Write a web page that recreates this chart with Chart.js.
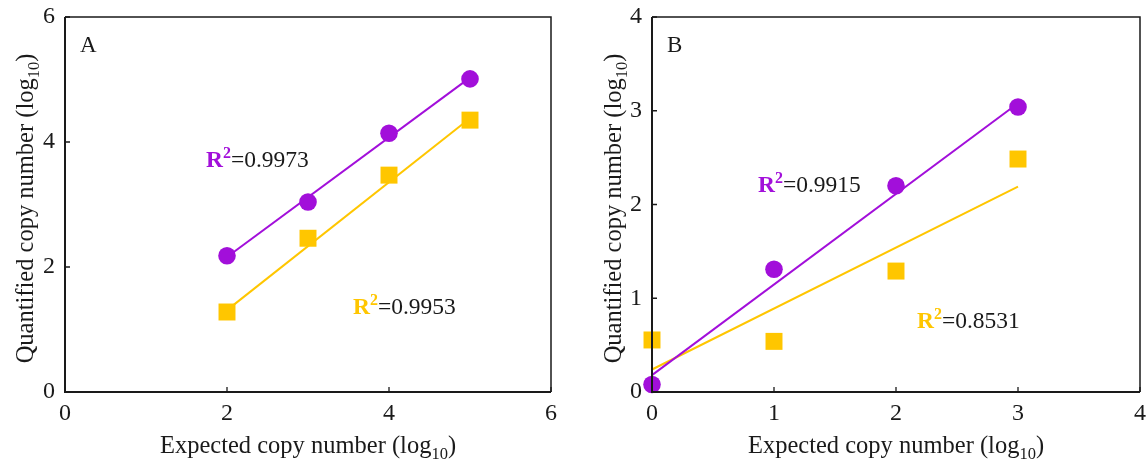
<!DOCTYPE html>
<html>
<head>
<meta charset="utf-8">
<script src="https://cdn.jsdelivr.net/npm/chart.js@4.4.1/dist/chart.umd.min.js"></script>
<style>
  body { margin: 0; background: #fff; overflow: hidden; }
  .wrap { position: absolute; top: 0; }
</style>
</head>
<body>
<div class="wrap" style="left:0"><canvas id="chartA" width="580" height="466"></canvas></div>
<div class="wrap" style="left:580px"><canvas id="chartB" width="580" height="466"></canvas></div>
<script>
// data (log10 values)
const expectedA = [2, 3, 4, 5];
const purpleA = [2.18, 3.04, 4.14, 5.01];
const yellowA = [1.28, 2.46, 3.47, 4.35];
const fitXA = [2, 5];
const fitPurpleA = [2.16, 5.03];
const fitYellowA = [1.31, 4.38];

const expectedB = [0, 1, 2, 3];
const purpleB = [0.08, 1.31, 2.2, 3.04];
const yellowB = [0.555, 0.54, 1.29, 2.485];
const fitXB = [0, 3];
const fitPurpleB = [0.18, 3.08];
const fitYellowB = [0.24, 2.19];

const r2A = ['0.9973', '0.9953'];
const r2B = ['0.9915', '0.8531'];
const ticksA = [0, 2, 4, 6];
const ticksB = [0, 1, 2, 3, 4];

const PURPLE = '#a20fda';
const YELLOW = '#ffc600';
const INK = '#1a1a1a';
const SERIF = '"Liberation Serif", "Times New Roman", serif';

function pts(xs, ys) {
    return xs.map((x, i) => ({ x: x, y: ys[i] }));
}

// text with a smaller raised/lowered part, e.g. log10 or R2
function drawParts(ctx, parts, x, y) {
    let cx = x;
    parts.forEach(p => {
        ctx.font = p.font;
        ctx.fillStyle = p.color || INK;
        ctx.fillText(p.t, cx, y + (p.dy || 0));
        cx += ctx.measureText(p.t).width;
    });
    return cx - x;
}
function partsWidth(ctx, parts) {
    let w = 0;
    parts.forEach(p => { ctx.font = p.font; w += ctx.measureText(p.t).width; });
    return w;
}

// box, inside ticks, titles and labels
const panelPlugin = {
    id: 'panel',
    afterDraw(chart, args, opts) {
        const ctx = chart.ctx;
        const a = chart.chartArea;
        const xs = chart.scales.x, ys = chart.scales.y;
        ctx.save();
        ctx.strokeStyle = INK;
        ctx.lineWidth = 1.5;
        ctx.beginPath();
        ctx.moveTo(a.left, a.top); ctx.lineTo(a.right, a.top); ctx.lineTo(a.right, a.bottom);
        ctx.stroke();
        ctx.lineWidth = 2;
        ctx.beginPath();
        ctx.moveTo(a.left, a.top); ctx.lineTo(a.left, a.bottom); ctx.lineTo(a.right, a.bottom);
        ctx.stroke();
        ctx.lineWidth = 1.3;
        ctx.beginPath();
        opts.xticks.forEach(v => {
            const px = xs.getPixelForValue(v);
            ctx.moveTo(px, a.bottom); ctx.lineTo(px, a.bottom - 5);
        });
        opts.yticks.forEach(v => {
            const py = ys.getPixelForValue(v);
            ctx.moveTo(a.left, py); ctx.lineTo(a.left + 5, py);
        });
        ctx.stroke();

        ctx.textBaseline = 'alphabetic';
        ctx.textAlign = 'left';
        const big = '24.5px ' + SERIF, small = '16.5px ' + SERIF;

        // x title
        const xt = [{ t: 'Expected copy number (log', font: big }, { t: '10', font: small, dy: 6 }, { t: ')', font: big }];
        const cx = (a.left + a.right) / 2;
        drawParts(ctx, xt, cx - partsWidth(ctx, xt) / 2, 453);

        // y title, rotated
        const yt = [{ t: 'Quantified copy number (log', font: big }, { t: '10', font: small, dy: 6 }, { t: ')', font: big }];
        ctx.save();
        ctx.translate(opts.yTitleX, (a.top + a.bottom) / 2 + 4);
        ctx.rotate(-Math.PI / 2);
        drawParts(ctx, yt, -partsWidth(ctx, yt) / 2, 8);
        ctx.restore();

        // panel letter
        ctx.font = '23px ' + SERIF;
        ctx.fillStyle = INK;
        ctx.fillText(opts.letter, a.left + 15, 52);

        // R2 labels
        opts.r2.forEach(r => {
            drawParts(ctx, [
                { t: 'R', font: 'bold 23.5px ' + SERIF, color: r.color },
                { t: '2', font: 'bold 16px ' + SERIF, color: r.color, dy: -9 },
                { t: '=' + r.text, font: '23.5px ' + SERIF }
            ], r.x, r.y);
        });
        ctx.restore();
    }
};

function makeChart(id, cfg) {
    const fitStyle = (c) => ({ type: 'line', showLine: true, borderColor: c, borderWidth: 2, pointRadius: 0, fill: false, order: 2, clip: false });
    return new Chart(document.getElementById(id), {
        type: 'scatter',
        data: {
            datasets: [
                Object.assign({ data: pts(cfg.fitX, cfg.fitPurple) }, fitStyle(PURPLE)),
                Object.assign({ data: pts(cfg.fitX, cfg.fitYellow) }, fitStyle(YELLOW)),
                { data: pts(cfg.xs, cfg.purple), pointStyle: 'circle', pointRadius: 8.8, backgroundColor: PURPLE, borderColor: PURPLE, borderWidth: 0, order: 1, clip: false },
                { data: pts(cfg.xs, cfg.yellow), pointStyle: 'rect', pointRadius: 12, backgroundColor: YELLOW, borderColor: YELLOW, borderWidth: 0, order: 1, clip: false }
            ]
        },
        options: {
            responsive: false,
            animation: false,
            events: [],
            layout: { padding: cfg.padding },
            plugins: {
                legend: { display: false },
                tooltip: { enabled: false },
                panel: { letter: cfg.letter, r2: cfg.r2, xticks: cfg.xticks, yticks: cfg.yticks, yTitleX: cfg.yTitleX }
            },
            scales: {
                x: {
                    type: 'linear', min: cfg.xticks[0], max: cfg.xticks[cfg.xticks.length - 1],
                    afterBuildTicks: s => { s.ticks = cfg.xticks.map(v => ({ value: v })); },
                    afterFit: s => { s.height = 74; s.paddingLeft = 0; s.paddingRight = 0; },
                    grid: { display: false, drawTicks: false }, border: { display: false },
                    ticks: { color: INK, padding: 7, maxRotation: 0, font: { family: SERIF, size: 24 } }
                },
                y: {
                    type: 'linear', min: cfg.yticks[0], max: cfg.yticks[cfg.yticks.length - 1],
                    afterBuildTicks: s => { s.ticks = cfg.yticks.map(v => ({ value: v })); },
                    afterFit: s => { s.width = cfg.yWidth; s.paddingTop = 0; s.paddingBottom = 0; },
                    grid: { display: false, drawTicks: false }, border: { display: false },
                    ticks: { color: INK, padding: 10, font: { family: SERIF, size: 24 } }
                }
            }
        },
        plugins: [panelPlugin]
    });
}

makeChart('chartA', {
    letter: 'A', xs: expectedA, purple: purpleA, yellow: yellowA,
    fitX: fitXA, fitPurple: fitPurpleA, fitYellow: fitYellowA,
    xticks: ticksA, yticks: ticksA, yWidth: 65, yTitleX: 25,
    padding: { top: 17, right: 29, bottom: 0, left: 0 },
    r2: [{ text: r2A[0], color: PURPLE, x: 206, y: 167 }, { text: r2A[1], color: YELLOW, x: 353, y: 314 }]
});

makeChart('chartB', {
    letter: 'B', xs: expectedB, purple: purpleB, yellow: yellowB,
    fitX: fitXB, fitPurple: fitPurpleB, fitYellow: fitYellowB,
    xticks: ticksB, yticks: ticksB, yWidth: 72, yTitleX: 33,
    padding: { top: 17, right: 20, bottom: 0, left: 0 },
    r2: [{ text: r2B[0], color: PURPLE, x: 178, y: 192 }, { text: r2B[1], color: YELLOW, x: 337, y: 328 }]
});
</script>
</body>
</html>
